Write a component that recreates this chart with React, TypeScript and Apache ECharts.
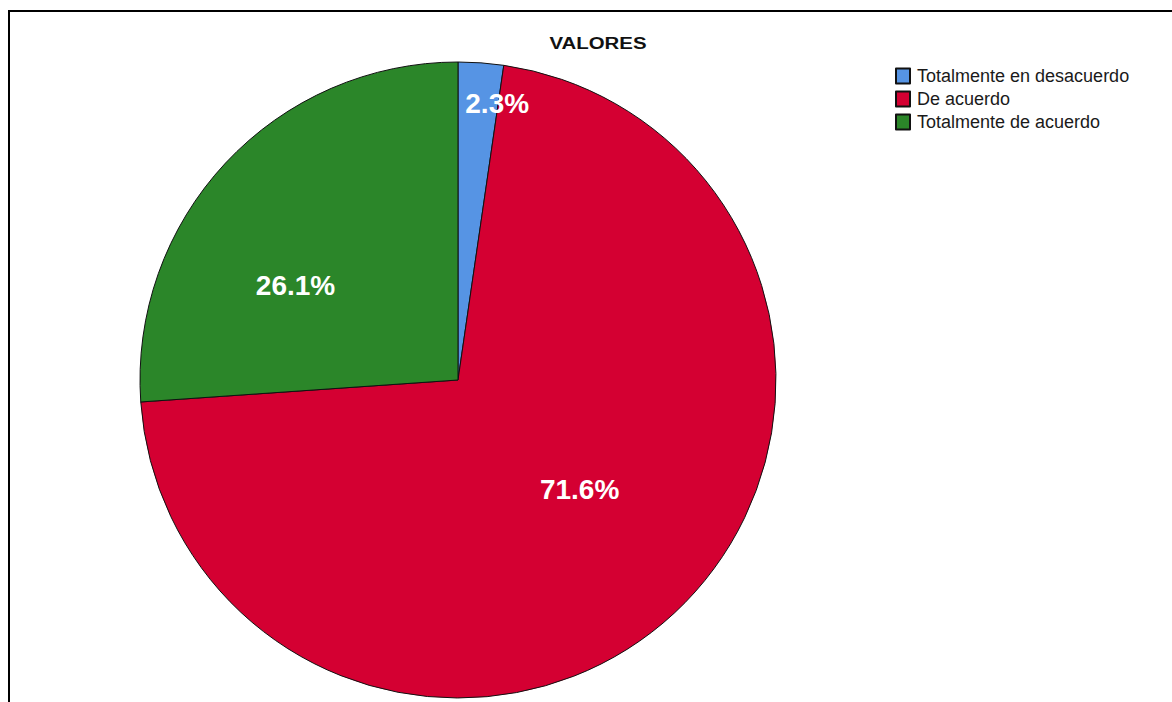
import React, { useEffect, useRef } from "react";
import * as echarts from "echarts";

const categories = ["Totalmente en desacuerdo", "De acuerdo", "Totalmente de acuerdo"];
const percentages = [2.3, 71.6, 26.1];
const titleText = "VALORES";

const colors = ["#5694e4", "#d40032", "#2b8629"];
const labelShift = [
  { dx: 27.5, dy: -115 },
  { dx: 11.5, dy: -9.6 },
  { dx: -44, dy: 16 },
];

export default function App() {
  const ref = useRef<HTMLDivElement>(null);
  useEffect(() => {
    const chart = echarts.init(ref.current!, null, { renderer: "svg" });
    chart.setOption({
      animation: false,
      backgroundColor: "#ffffff",
      legend: {
        orient: "vertical",
        left: 890,
        top: 62,
        icon: "rect",
        itemWidth: 14,
        itemHeight: 15,
        itemGap: 5,
        selectedMode: false,
        textStyle: {
          fontFamily: "'Liberation Sans', Arial, sans-serif",
          fontSize: 18,
          color: "#1a1a1a",
          padding: [0, 0, 0, 2],
        },
        data: categories,
      },
      graphic: [
        {
          type: "rect",
          shape: { x: 9, y: 11, width: 1300, height: 900 },
          style: { fill: "none", stroke: "#000", lineWidth: 2 },
          silent: true,
          z: -1,
        },
        {
          type: "text",
          x: 598,
          y: 43,
          scaleX: 1.2,
          style: {
            text: titleText,
            fontFamily: "'Liberation Sans', Arial, sans-serif",
            fontWeight: "bold",
            fontSize: 17,
            fill: "#111",
            align: "center",
            verticalAlign: "middle",
          },
        },
      ],
      series: [
        {
          type: "pie",
          center: [458, 380],
          radius: [0, 318],
          startAngle: 90,
          clockwise: true,
          avoidLabelOverlap: false,
          emphasis: { disabled: true },
          itemStyle: { borderColor: "#111", borderWidth: 1 },
          label: {
            show: true,
            position: "inside",
            formatter: (p: any) => p.value.toFixed(1) + "%",
            color: "#ffffff",
            fontFamily: "'Liberation Sans', Arial, sans-serif",
            fontWeight: "bold",
            fontSize: 28,
          },
          labelLayout: (params: any) => labelShift[params.dataIndex],
          data: categories.map((name, i) => ({
            name,
            value: percentages[i],
            itemStyle: { color: colors[i] },
          })),
        },
      ],
    });
    return () => chart.dispose();
  }, []);
  return (
    <div
      ref={ref}
      style={{ position: "fixed", left: 0, top: 0, width: 1172, height: 702 }}
    />
  );
}
